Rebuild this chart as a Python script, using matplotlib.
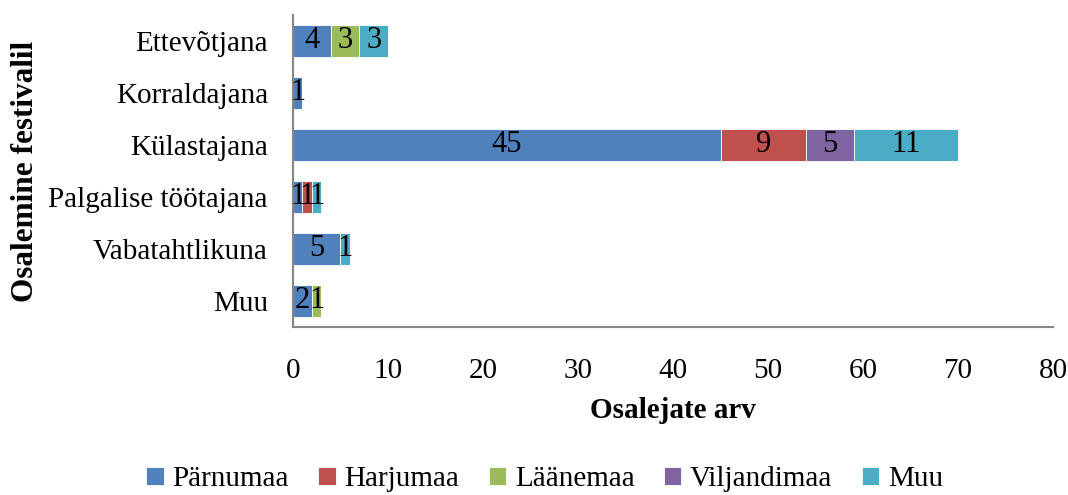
import matplotlib
matplotlib.use("Agg")
from matplotlib import pyplot as plt
import numpy as np

plt.rcParams['font.family'] = ['Liberation Serif', 'DejaVu Serif']

kategooriad = ['Ettevõtjana', 'Korraldajana', 'Külastajana',
               'Palgalise töötajana', 'Vabatahtlikuna', 'Muu']
maakonnad = ['Pärnumaa', 'Harjumaa', 'Läänemaa', 'Viljandimaa', 'Muu']
parnumaa = [4, 1, 45, 1, 5, 2]
harjumaa = [0, 0, 9, 1, 0, 0]
laanemaa = [3, 0, 0, 0, 0, 1]
viljandimaa = [0, 0, 5, 0, 0, 0]
muu = [3, 0, 11, 1, 1, 0]
varvid = ['#4F81BD', '#C0504D', '#9BBB59', '#8064A2', '#4BACC6']

fig = plt.figure(figsize=(10.68, 4.95), dpi=100)
ax = fig.add_axes([0.2743, 0.3394, 0.7117, 0.6303])

y = np.arange(len(kategooriad))
vasak = np.zeros(len(kategooriad))
for nimi, vaartused, varv in zip(maakonnad,
                                 [parnumaa, harjumaa, laanemaa, viljandimaa, muu],
                                 varvid):
    vaartused = np.array(vaartused, dtype=float)
    ax.barh(y, vaartused, left=vasak, height=0.61, color=varv,
            edgecolor='white', linewidth=0.6, label=nimi)
    for yi, v, l in zip(y, vaartused, vasak):
        if v > 0:
            ax.text(l + v / 2, yi, '%d' % v, ha='center', va='center',
                    fontsize=22, color='black')
    vasak += vaartused

ax.set_xlim(0, 80)
ax.set_ylim(len(kategooriad) - 0.5, -0.5)
ax.set_xticks(range(0, 81, 10))
ax.set_yticks(y)
ax.set_yticklabels(kategooriad)
ax.tick_params(axis='both', length=0, labelsize=21)
ax.tick_params(axis='y', pad=18)
ax.tick_params(axis='x', pad=22)

for s in ['top', 'right']:
    ax.spines[s].set_visible(False)
for s in ['left', 'bottom']:
    ax.spines[s].set_color('#868686')
    ax.spines[s].set_linewidth(1.5)

ax.set_xlabel('Osalejate arv', fontsize=21, fontweight='bold', labelpad=10)
ax.set_ylabel('Osalemine festivalil', fontsize=22.5, fontweight='bold', labelpad=6)

ax.legend(loc='lower center', bbox_to_anchor=(0.51, -0.018), bbox_transform=fig.transFigure,
          ncol=5, frameon=False, fontsize=21, handlelength=0.6, handleheight=0.6,
          handletextpad=0.3, columnspacing=1.0, borderaxespad=0)

fig.savefig('out.png', dpi=100)
